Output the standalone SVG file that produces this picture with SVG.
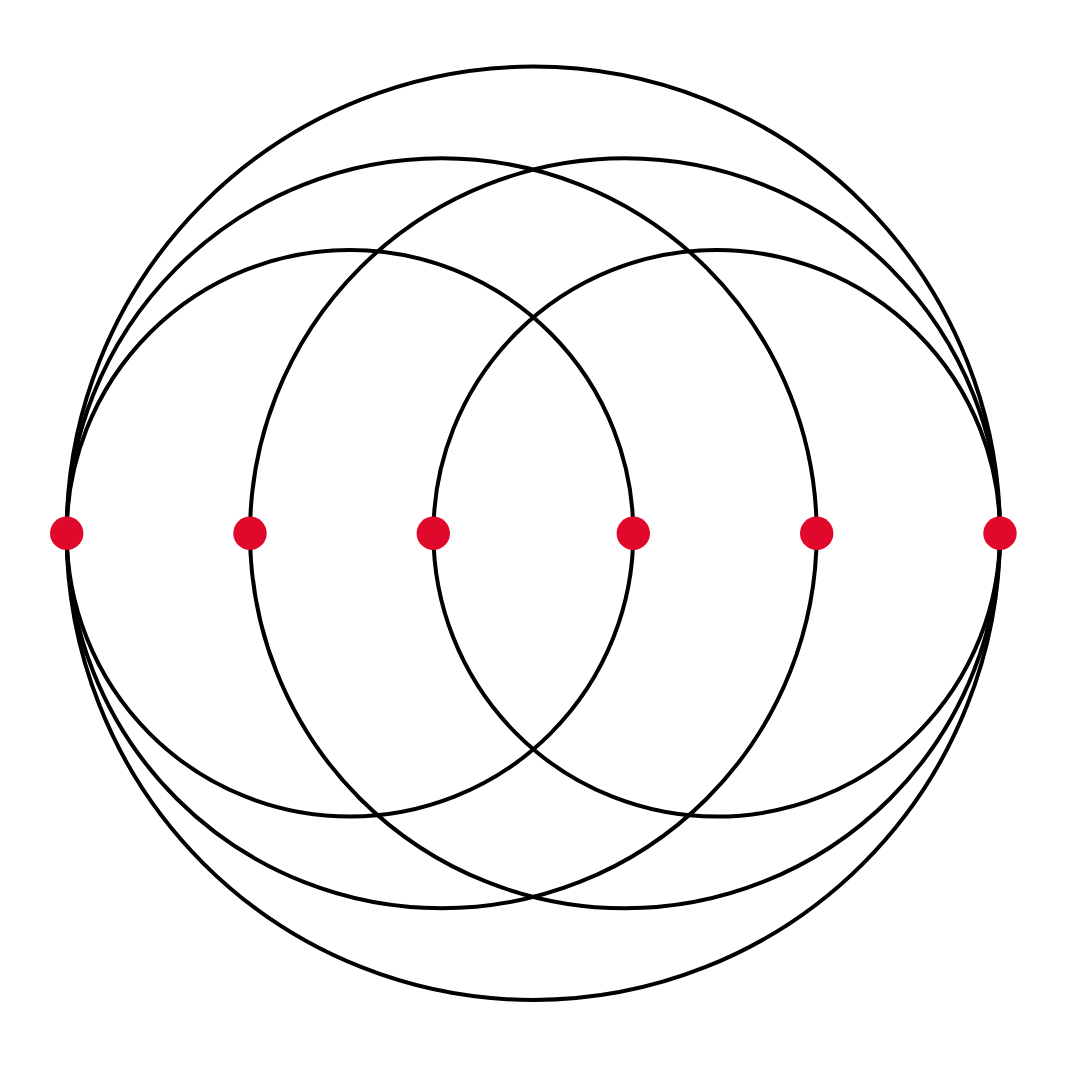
<svg xmlns="http://www.w3.org/2000/svg" width="1067" height="1068" viewBox="0 0 1067 1068">
<style>
.c{fill:none;stroke:#000;stroke-width:4}
.d{fill:#e0082b;stroke:none}
</style>
<rect width="1067" height="1068" fill="#fff"/>
<g id="circles">
<circle class="c" cx="533.3" cy="533.3" r="466.7"/>
<circle class="c" cx="441.7" cy="533.3" r="375"/>
<circle class="c" cx="625" cy="533.3" r="375"/>
<circle class="c" cx="350" cy="533.3" r="283.3"/>
<circle class="c" cx="716.7" cy="533.3" r="283.3"/>
</g>
<g id="p1"><circle class="d" cx="66.7" cy="533.3" r="16.7"/></g>
<g id="p2"><circle class="d" cx="250" cy="533.3" r="16.7"/></g>
<g id="p3"><circle class="d" cx="433.3" cy="533.3" r="16.7"/></g>
<g id="p4"><circle class="d" cx="633.3" cy="533.3" r="16.7"/></g>
<g id="p5"><circle class="d" cx="816.7" cy="533.3" r="16.7"/></g>
<g id="p6"><circle class="d" cx="1000" cy="533.3" r="16.7"/></g>
</svg>
